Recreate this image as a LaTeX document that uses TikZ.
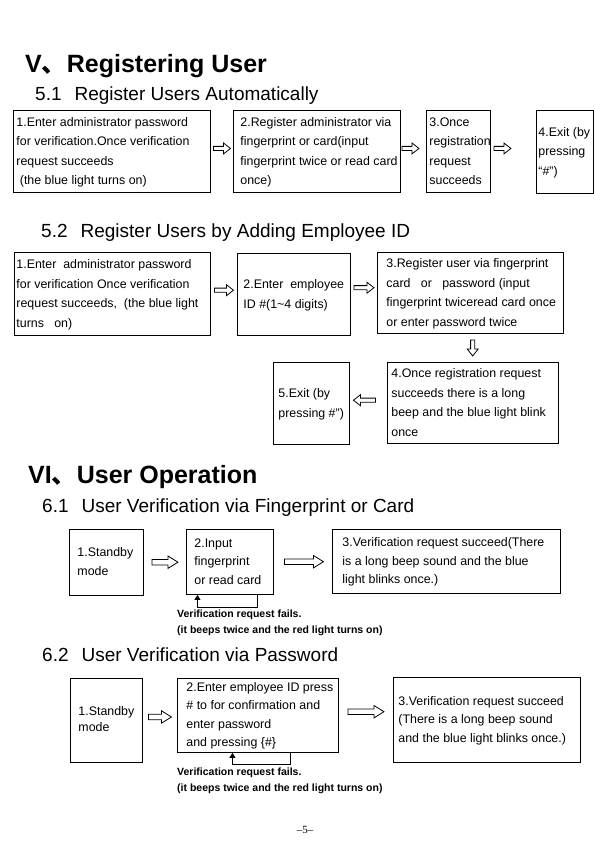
\documentclass[tikz,border=0pt]{standalone}
\usepackage{fontspec}
\setmainfont{Liberation Sans}
\newfontfamily\cjk{Noto Sans CJK SC}
\newfontfamily\pnum{Liberation Serif}
\usetikzlibrary{arrows.meta,calc}
\newcommand\bxt[3]{\makebox[#1][l]{\hspace*{#2}\begin{tabular}{@{}l@{}}#3\end{tabular}}}
\tikzset{
  box/.style={draw, line width=0.9pt, inner sep=0pt, anchor=north west},
  fa/.style={font=\fontsize{12.4}{19.5}\selectfont},
  fb/.style={font=\fontsize{12.4}{18.5}\selectfont},
  htitle/.style={font=\fontsize{25}{30}\selectfont\bfseries, inner sep=0pt, anchor=base west},
  hsub/.style={font=\fontsize{19}{23}\selectfont, inner sep=0pt, anchor=base west},
  failtext/.style={font=\fontsize{10.5}{15.5}\selectfont\bfseries, align=left, inner sep=0pt, anchor=north west},
  arrline/.style={line width=0.8pt, line join=miter},
  sarr/.pic={\draw[arrline] (-#1/2,-2.1) -- (#1/2-7,-2.1) -- (#1/2-7,-5.5) -- (#1/2,0) -- (#1/2-7,5.5) -- (#1/2-7,2.1) -- (-#1/2,2.1) -- cycle;},
  barr/.pic={\draw[arrline] (-#1/2,-2.8) -- (#1/2-10,-2.8) -- (#1/2-10,-6.2) -- (#1/2,0) -- (#1/2-10,6.2) -- (#1/2-10,2.8) -- (-#1/2,2.8) -- cycle;},
  loopline/.style={line width=1pt, -{Triangle[width=6pt,length=5pt]}},
}
\begin{document}
\begin{tikzpicture}[x=1pt,y=-1pt]
\path[use as bounding box] (0,0) rectangle (596,860);

% ---- Section V ----
\node[htitle] (t5) at (25,72) {V{\cjk 、}Registering User};
\node[hsub] (s51) at (35,100) {5.1\hspace{13pt}Register Users Automatically};

\node[box,fa,minimum height=82pt] (a1) at (13,110) {\bxt{197pt}{3pt}{1.Enter administrator password\\for verification.Once verification\\request succeeds\\\ (the blue light turns on)}};
\node[box,fa,minimum height=82pt] (a2) at (233,110) {\bxt{167pt}{7pt}{2.Register administrator via\\fingerprint or card(input\\fingerprint twice or read card\\once)}};
\node[box,fa,minimum height=82pt] (a3) at (426,110) {\bxt{64pt}{3pt}{3.Once\\registration\\request\\succeeds}};
\node[box,fa,minimum height=83pt] (a4) at (536,110) {\bxt{57pt}{2pt}{4.Exit (by\\pressing\\“\#”)}};

\pic at ($(a1.east)!0.5!(a2.west)+(0,-3)$) {sarr=17};
\pic at ($(a2.east)!0.5!(a3.west)+(-3,-3)$) {sarr=17};
\pic at ($(a3.east)+(11.5,-3)$) {sarr=17};

\node[hsub] (s52) at (41,237) {5.2\hspace{13pt}Register Users by Adding Employee ID};

\node[box,fa,minimum height=83pt] (b1) at (14,252) {\bxt{196pt}{2pt}{1.Enter\ \ administrator password\\for verification Once verification\\request succeeds,\ \ (the blue light\\turns\ \ \ on)}};
\node[box,fa,minimum height=82pt] (b2) at (237,253) {\bxt{113pt}{6pt}{2.Enter\ \ employee\\ID \#(1\textasciitilde 4 digits)}};
\node[box,fa,minimum height=81pt] (b3) at (377,252) {\bxt{186pt}{9pt}{3.Register user via fingerprint\\card\ \ \ or\ \ \ password (input\\fingerprint twiceread card once\\or enter password twice}};
\node[box,fa,minimum height=81pt] (b4) at (387,362) {\bxt{171pt}{4pt}{4.Once registration request\\succeeds there is a long\\beep and the blue light blink\\once}};
\node[box,fa,minimum height=82pt] (b5) at (273,362) {\bxt{76pt}{5pt}{5.Exit (by\\pressing \#”)}};

\pic at ($(b1.east)!0.5!(b2.west)+(0,-4)$) {sarr=19};
\pic at ($(b2.east)!0.5!(b3.west)+(0,-6)$) {sarr=20};
\pic[rotate=-90] at ($(b3.south)!0.5!(b4.north)+(1,0)$) {sarr=16};
\pic[rotate=180] at ($(b5.east)!0.5!(b4.west)+(-4,-3)$) {sarr=22};

% ---- Section VI ----
\node[htitle] (t6) at (28,483) {VI{\cjk 、}User Operation};
\node[hsub] (s61) at (42,512) {6.1\hspace{13pt}User Verification via Fingerprint or Card};

\node[box,fb,minimum height=66pt] (c1) at (69,529) {\bxt{74pt}{8pt}{1.Standby\\mode}};
\node[box,fb,minimum height=65pt] (c2) at (186,529) {\bxt{87pt}{8pt}{2.Input\\fingerprint\\or read card}};
\node[box,fb,minimum height=64pt] (c3) at (332,529) {\bxt{228pt}{10pt}{3.Verification request succeed(There\\is a long beep sound and the blue\\light blinks once.)}};

\pic at ($(c1.east)!0.5!(c2.west)$) {barr=26};
\pic at ($(c2.east)!0.5!(c3.west)+(1,0)$) {barr=39};
\draw[loopline] ([xshift=27.5pt]c2.south) -- ++(0,13) -| ([xshift=-32.5pt]c2.south);
\node[failtext] (f1) at (177,610) {Verification request fails.\\(it beeps twice and the red light turns on)};

\node[hsub] (s62) at (42,661) {6.2\hspace{13pt}User Verification via Password};

\node[box,fb,minimum height=84pt,font=\fontsize{12.4}{16}\selectfont] (d1) at (70,678) {\bxt{72pt}{8pt}{1.Standby\\mode}};
\node[box,fb,minimum height=72pt] (d2) at (177,678) {\bxt{161pt}{9pt}{2.Enter employee ID press\\\# to for confirmation and\\enter password\\and pressing \{\#\}}};
\node[box,fb,minimum height=85pt] (d3) at (393,677) {\bxt{187pt}{5pt}{3.Verification request succeed\\(There is a long beep sound\\and the blue light blinks once.)}};

\pic at ($(d1.east)!0.5!(d2.west)+(0,-1)$) {barr=23};
\pic at ($(d2.east)!0.5!(d3.west)+(0,-6)$) {barr=36};
\draw[loopline] ([xshift=32.5pt]d2.south) -- ++(0,12) -| ([xshift=-25.5pt]d2.south);
\node[failtext] (f2) at (177,768) {Verification request fails.\\(it beeps twice and the red light turns on)};

\node[font=\pnum\fontsize{11}{13}\selectfont, inner sep=0pt] (pg) at (305,830) {–5–};
\end{tikzpicture}
\end{document}
